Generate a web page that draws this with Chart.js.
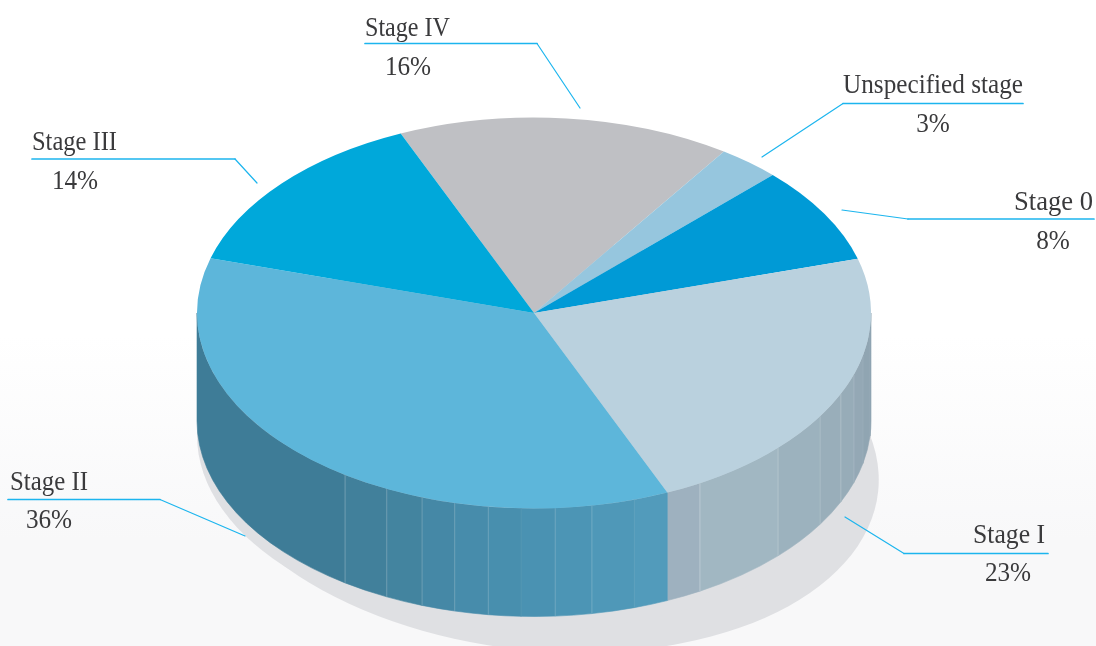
<!DOCTYPE html>
<html><head><meta charset="utf-8">
<script src="https://cdn.jsdelivr.net/npm/chart.js@4"></script>
<style>
html,body{margin:0;padding:0;width:1096px;height:646px;overflow:hidden;background:linear-gradient(to bottom,#fff 0,#fff 335px,#f8f8f9 540px,#f8f8f9 646px)}
canvas{display:block}
</style></head><body>
<canvas id="c" width="1096" height="646"></canvas>
<script>
const categories = ['Stage IV','Unspecified stage','Stage 0','Stage I','Stage II','Stage III'];
const shares = [16,3,8,23,36,14];
const sliceColors = ['#bfc0c4','#96c6de','#009ad6','#bad1de','#5db6da','#00a8da'];

// Pie tilt and wall depth
const startRotation = -23.3, pieRadius = 337, squash = 195.5/337, wallDepth = 108;

// Faceted wall: upper angle of each facet (deg clockwise from 3 o'clock) and colour
const facetEnds   = [4.4,12.5,18.3,24.4,31.9,43.6,60.5,66.7,72.7,80.1,86.4,92.2,97.8,103.6,109.4,115.9,124.1,180];
const facetColors = ['#8ca1af','#90a5b2','#94a8b5','#97acb8','#99aeba','#9cb2be','#a1b7c2','#9eb1bf',
  '#529bbb','#4f98b8','#4c95b5','#4a92b2','#488fae','#478cab','#4588a6','#43849f','#41809b','#3e7c97'];
const facetSeam   = [0,.06,.06,.12,.18,.14,.2,.3,0,.06,.2,.18,.06,.18,.2,.2,.22,.25];

// Leader annotations, order matches categories
const leaderLines = [
  [[365,43.5],[537,43.5],[580,108]],
  [[1023,103.5],[843,103.5],[762,157]],
  [[1094,219],[908,219],[842,210]],
  [[1048,553.5],[904,553.5],[845,517]],
  [[8,499.5],[160,499.5],[245,536]],
  [[32,159],[235,159],[257,183]]
];
const nameAnchors = [[365,36,'left'],[843,93,'left'],[1093,210,'right'],[1045,543,'right'],[10,490,'left'],[32,150,'left']];
const nameFitWidths = [85,180,79,72,78,85];
const valueAnchors = [[408,75],[933,132],[1053,249],[1008,581],[49,528],[75,189]];

const rad = d => d*Math.PI/180;

const pie3d = {
  id:'pie3d',
  beforeDatasetsDraw(chart){
    const ctx = chart.ctx, arcs = chart.getDatasetMeta(0).data, a0 = arcs[0];
    const cx = a0.x, cy = a0.y, rx = a0.outerRadius, ry = rx*squash;
    // drop shadow
    ctx.save();
    ctx.fillStyle = '#dfe0e3';
    ctx.beginPath();
    ctx.ellipse(cx+6,cy+143,rx+3,ry-1,rad(6),0,Math.PI*2);
    ctx.fill();
    ctx.beginPath();
    ctx.ellipse(cx,cy+wallDepth+14,rx,ry,0,0,Math.PI*2);
    ctx.fill();
    ctx.restore();
    // walls
    let lo = 0;
    facetEnds.forEach((hi,i)=>{
      const s = rad(lo), e = rad(hi);
      ctx.beginPath();
      ctx.ellipse(cx,cy,rx,ry,0,s,e);
      ctx.ellipse(cx,cy+wallDepth,rx,ry,0,e,s,true);
      ctx.closePath();
      ctx.fillStyle = facetColors[i];
      ctx.fill();
      ctx.strokeStyle = facetColors[i];
      ctx.lineWidth = .6;
      ctx.stroke();
      lo = hi;
    });
    lo = 0;
    facetEnds.forEach((hi,i)=>{
      if(i>0 && facetSeam[i]>0){
        const x = cx+rx*Math.cos(rad(lo)), y = cy+ry*Math.sin(rad(lo));
        ctx.beginPath();
        ctx.moveTo(x,y);
        ctx.lineTo(x,y+wallDepth);
        ctx.strokeStyle = 'rgba(255,255,255,'+facetSeam[i]+')';
        ctx.lineWidth = 1;
        ctx.stroke();
      }
      lo = hi;
    });
    // squash the circular pie into the tilted ellipse
    ctx.save();
    ctx.translate(cx,cy);
    ctx.scale(1,squash);
    ctx.translate(-cx,-cy);
  },
  afterDatasetsDraw(chart){
    const ctx = chart.ctx;
    ctx.restore();
    ctx.save();
    leaderLines.forEach(pts=>{
      for(let i=1;i<pts.length;i++){
        const horizontal = pts[i][1]===pts[i-1][1];
        ctx.beginPath();
        ctx.moveTo(pts[i-1][0],pts[i-1][1]);
        ctx.lineTo(pts[i][0],pts[i][1]);
        ctx.strokeStyle = '#1cb5ee';
        ctx.lineWidth = horizontal ? 1.7 : 1.2;
        ctx.lineCap = 'round';
        ctx.stroke();
      }
    });
    ctx.fillStyle = '#3a3a3c';
    ctx.font = '28px "Liberation Serif"';
    ctx.textBaseline = 'alphabetic';
    categories.forEach((name,i)=>{
      const [x,y,al] = nameAnchors[i];
      ctx.textAlign = al;
      ctx.fillText(name,x,y,nameFitWidths[i]);
      const v = shares[i]+'%', [vx,vy] = valueAnchors[i];
      ctx.textAlign = 'center';
      ctx.fillText(v,vx,vy,ctx.measureText(v).width*.9);
    });
    ctx.restore();
  }
};

new Chart(document.getElementById('c'),{
  type:'pie',
  data:{labels:categories,datasets:[{
    data:shares,
    backgroundColor:sliceColors,
    borderWidth:0,
    hoverOffset:0,
    radius:pieRadius,
    rotation:startRotation,
    clip:false
  }]},
  options:{
    responsive:false,
    animation:false,
    layout:{padding:{left:0,top:0,right:28,bottom:20}},
    plugins:{legend:{display:false},tooltip:{enabled:false}}
  },
  plugins:[pie3d]
});
</script>
</body></html>
